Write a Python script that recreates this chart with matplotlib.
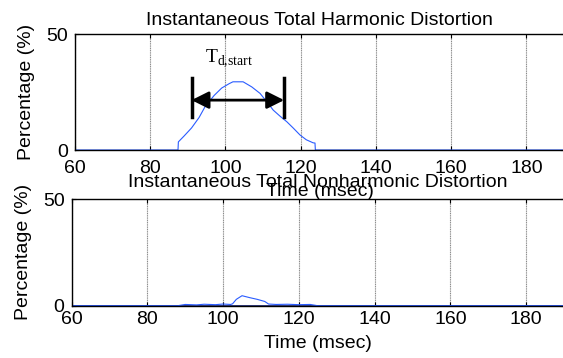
import numpy as np
import matplotlib.pyplot as plt

plt.rcParams['font.family'] = ['Liberation Sans', 'DejaVu Sans']

# harmonic distortion curve (msec, %)
thd_t = [60, 87.4, 87.5, 89, 91, 93, 94.6, 97, 99, 101, 102, 104.7, 107, 109.2, 111, 112.7, 114.5, 116.3, 118, 119.8, 121.5, 123.3, 123.8, 123.9, 190]
thd_v = [0, 0, 3.5, 6.0, 9.5, 14.0, 18.7, 23.5, 26.7, 28.6, 29.4, 29.4, 27.2, 24.4, 20.8, 17.2, 14.6, 12.2, 9.5, 6.5, 4.4, 3.1, 3.0, 0, 0]

# nonharmonic distortion curve
tnhd_t = [60, 88, 90, 93, 95, 98, 100, 102, 102.5, 103.5, 105, 107, 109, 111, 112, 114, 117, 120, 123, 125, 190]
tnhd_v = [0, 0, 0.6, 0.4, 0.7, 0.5, 0.8, 0.6, 0.9, 3.0, 4.7, 3.8, 3.0, 2.0, 0.8, 0.6, 0.7, 0.5, 0.6, 0, 0]

xticks = [60, 80, 100, 120, 140, 160, 180]
yticks = [0, 50]

# annotation: arrow span and label
span_start = 91.0
span_end = 115.6
span_level = 21.5
bar_low, bar_high = 14.4, 31.0

FS = 14


def style_axes(ax, xpad):
    ax.set_xlim(60, 190)
    ax.set_ylim(0, 50)
    ax.set_xticks(xticks)
    ax.set_yticks(yticks)
    ax.tick_params(direction='in', length=3, width=0.8, labelsize=FS, top=True, right=True)
    ax.tick_params(axis='x', pad=xpad)
    ax.tick_params(axis='y', pad=5)
    ax.grid(axis='x', color='#8a8a8a', linewidth=0.8, linestyle=(0, (1, 0.6)))
    for s in ax.spines.values():
        s.set_linewidth(1.0)
    ax.set_ylabel('Percentage (%)', fontsize=FS, labelpad=8)


fig = plt.figure(figsize=(5.63, 3.58), dpi=100)
ax1 = fig.add_axes([0.133, 0.581, 0.869, 0.324])
ax2 = fig.add_axes([0.127, 0.146, 0.875, 0.298])

ax1.plot(thd_t, thd_v, color='#2a5cff', linewidth=0.8)
style_axes(ax1, 7.5)
ax1.set_title('Instantaneous Total Harmonic Distortion', fontsize=FS, pad=6.5)
ax1.set_xlabel('Time (msec)', fontsize=FS, labelpad=4)

ax1.annotate('', xy=(span_start, span_level), xytext=(span_end, span_level),
             arrowprops=dict(arrowstyle='<|-|>', color='black', lw=2, mutation_scale=26, shrinkA=0, shrinkB=0))
ax1.plot([span_start, span_start], [bar_low, bar_high], color='black', linewidth=2.5)
ax1.plot([span_end, span_end], [bar_low, bar_high], color='black', linewidth=2.5)
ax1.text(94.6, 38, r'T$_{\mathregular{d{,}start}}$', family='Liberation Serif', fontsize=FS)

ax2.plot([60, 190], [0, 0], color='#1f2a7a', linewidth=2.0)
ax2.plot(tnhd_t, tnhd_v, color='#2a5cff', linewidth=0.8)
style_axes(ax2, 3.5)
ax2.set_title('Instantaneous Total Nonharmonic Distortion', fontsize=FS, pad=9)
ax2.set_xlabel('Time (msec)', fontsize=FS, labelpad=5.5)

fig.savefig('out.png', dpi=100)
